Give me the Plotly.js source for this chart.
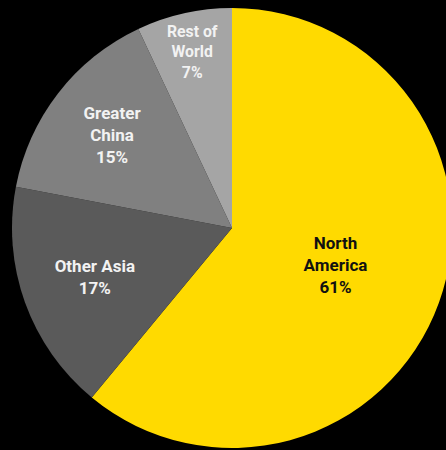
<!DOCTYPE html>
<html>
<head>
<meta charset="utf-8">
<script src="https://cdn.plot.ly/plotly-3.0.1.min.js"></script>
<style>
html,body{margin:0;padding:0;background:#000;overflow:hidden;width:446px;height:450px;}
#chart{width:470px;height:470px;}
</style>
</head>
<body>
<div id="chart"></div>
<script>
const regions = ["North America", "Other Asia", "Greater China", "Rest of World"];
const regionText = ["North<br>America", "Other Asia", "Greater<br>China", "Rest of<br>World"];
const shares = [61, 17, 15, 7];

const W = 470, H = 470;
const cx = 232, cy = 228, r = 220;

const trace = {
  type: 'pie',
  labels: regions,
  values: shares,
  text: regionText,
  texttemplate: '%{text}<br>%{value}%',
  textposition: 'inside',
  insidetextorientation: 'horizontal',
  sort: false,
  direction: 'clockwise',
  rotation: 0,
  hole: 0,
  marker: {
    colors: ['#FFDA00', '#5a5a5a', '#808080', '#a5a5a5'],
    line: {width: 0}
  },
  textfont: {
    family: 'Roboto, "DejaVu Sans", sans-serif',
    size: 17,
    weight: 'bold',
    color: ['#111111', '#f2f2f2', '#f2f2f2', '#f2f2f2']
  },
  domain: {
    x: [(cx - r) / W, (cx + r) / W],
    y: [1 - (cy + r) / H, 1 - (cy - r) / H]
  },
  showlegend: false,
  hoverinfo: 'label+percent'
};

const layout = {
  width: W,
  height: H,
  margin: {l: 0, r: 0, t: 0, b: 0, pad: 0},
  paper_bgcolor: '#000000',
  plot_bgcolor: '#000000',
  showlegend: false
};

Plotly.newPlot('chart', [trace], layout, {displayModeBar: false, staticPlot: true});
</script>
</body>
</html>
